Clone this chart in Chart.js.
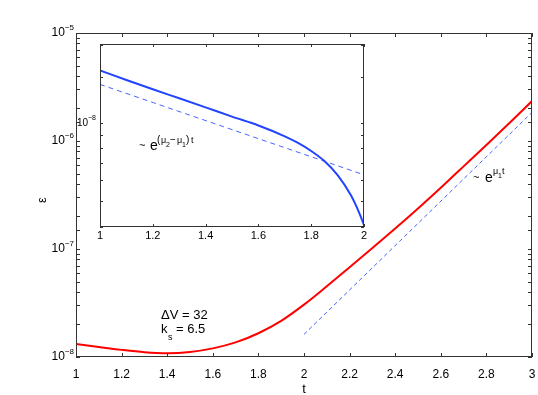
<!DOCTYPE html>
<html>
<head>
<meta charset="utf-8">
<script src="https://cdn.jsdelivr.net/npm/chart.js@4.4.1/dist/chart.umd.min.js"></script>
<style>
  html, body { margin: 0; padding: 0; background: #fff; }
  #wrap { position: relative; width: 538px; height: 395px; }
  #main { position: absolute; left: 0; top: 0; }
  #inset { position: absolute; left: 60px; top: 30px; }
</style>
</head>
<body>
<div id="wrap">
  <canvas id="main" width="538" height="395"></canvas>
  <canvas id="inset" width="320" height="220"></canvas>
</div>
<script>
(function () {
    'use strict';

    // main panel: epsilon(t)
    const mainT = [1.0, 1.1, 1.2, 1.3, 1.4, 1.5, 1.6, 1.7, 1.8, 1.9, 2.0, 2.1, 2.2, 2.3, 2.4, 2.5, 2.6, 2.7, 2.8, 2.9, 3.0];
    const mainEps = [1.318e-8, 1.236e-8, 1.164e-8, 1.109e-8, 1.086e-8, 1.114e-8, 1.202e-8, 1.365e-8, 1.66e-8, 2.163e-8,
                     3.055e-8, 4.519e-8, 6.776e-8, 1.021e-7, 1.549e-7, 2.377e-7, 3.698e-7, 5.821e-7, 9.183e-7, 1.462e-6, 2.344e-6];
    // ~ e^(mu1 t) guide
    const fitT = [2, 3];
    const fitEps = [1.62e-8, 1.84e-6];

    // inset panel
    const insetT = [1.0, 1.1, 1.2, 1.3, 1.4, 1.5, 1.6, 1.7, 1.75, 1.8, 1.85, 1.9, 1.95, 1.975, 2.0];
    const insetVals = [1.596e-8, 1.466e-8, 1.349e-8, 1.245e-8, 1.148e-8, 1.057e-8, 9.77e-9, 8.87e-9, 8.36e-9,
                       7.78e-9, 7.11e-9, 6.27e-9, 5.25e-9, 4.65e-9, 4.03e-9];
    // ~ e^((mu2-mu1) t) guide
    const insetFitT = [1, 2];
    const insetFitVals = [1.409e-8, 6.29e-9];

    // tick labels
    const mainXTicks = [1, 1.2, 1.4, 1.6, 1.8, 2, 2.2, 2.4, 2.6, 2.8, 3];
    const mainYDecades = [-8, -7, -6, -5];
    const insetXTicks = [1, 1.2, 1.4, 1.6, 1.8, 2];
    const insetYDecades = [-8];

    const FONT = '"Liberation Sans", Arial, Helvetica, sans-serif';
    const AXIS = '#333';

    function pts(xs, ys) {
        return xs.map((x, i) => ({ x: x, y: ys[i] }));
    }

    function drawPower(ctx, xRight, yMid, exp, size, supSize) {
        ctx.font = supSize + 'px ' + FONT;
        const sup = '\u2212' + Math.abs(exp);
        const supW = ctx.measureText(sup).width;
        ctx.textAlign = 'left';
        ctx.textBaseline = 'middle';
        ctx.fillText(sup, xRight - supW, yMid - size * 0.45);
        ctx.font = size + 'px ' + FONT;
        ctx.textAlign = 'right';
        ctx.fillText('10', xRight - supW, yMid);
    }

    function axesPlugin(cfg) {
        return {
            id: 'matlabAxes',
            beforeDraw(chart) {
                const { ctx, chartArea: a } = chart;
                ctx.save();
                ctx.fillStyle = '#fff';
                ctx.fillRect(a.left, a.top, a.right - a.left, a.bottom - a.top);
                ctx.restore();
            },
            afterDraw(chart) {
                const { ctx, chartArea: a, scales } = chart;
                const x = scales.x, y = scales.y;
                const L = cfg.tickLen;
                ctx.save();
                ctx.strokeStyle = AXIS;
                ctx.lineWidth = 1;
                ctx.beginPath();
                x.ticks.forEach(t => {
                    const px = Math.round(x.getPixelForValue(t.value)) + 0.5;
                    ctx.moveTo(px, a.bottom); ctx.lineTo(px, a.bottom - L);
                    ctx.moveTo(px, a.top); ctx.lineTo(px, a.top + L);
                });
                y.ticks.forEach(t => {
                    const py = Math.round(y.getPixelForValue(t.value)) + 0.5;
                    ctx.moveTo(a.left, py); ctx.lineTo(a.left + L, py);
                    ctx.moveTo(a.right, py); ctx.lineTo(a.right - L, py);
                });
                ctx.stroke();
                ctx.strokeRect(Math.round(a.left) + 0.5, Math.round(a.top) + 0.5,
                    Math.round(a.right - a.left) - 1, Math.round(a.bottom - a.top) - 1);

                ctx.fillStyle = '#000';
                ctx.font = cfg.xFont + 'px ' + FONT;
                ctx.textAlign = 'center';
                ctx.textBaseline = 'middle';
                cfg.xTicks.forEach(v => {
                    ctx.fillText(String(Number(v.toFixed(1))), x.getPixelForValue(v), a.bottom + cfg.xOff);
                });
                cfg.yDecades.forEach(d => {
                    drawPower(ctx, a.left - cfg.yOff, y.getPixelForValue(Math.pow(10, d)), d, cfg.yFont, cfg.ySup);
                });
                if (cfg.extra) cfg.extra(ctx, a);
                ctx.restore();
            }
        };
    }

    function text(ctx, s, x, y, size, align) {
        ctx.font = size + 'px ' + FONT;
        ctx.textAlign = align || 'left';
        ctx.textBaseline = 'alphabetic';
        ctx.fillText(s, x, y);
    }

    function mainExtras(ctx) {
        ctx.fillStyle = '#000';
        // axis labels
        text(ctx, 't', 304, 393, 13, 'center');
        ctx.save();
        ctx.translate(46, 200);
        ctx.rotate(-Math.PI / 2);
        text(ctx, '\u03b5', 0, 0, 13, 'center');
        ctx.restore();
        // parameters
        text(ctx, '\u0394V = 32', 161, 319, 13);
        text(ctx, 'k', 161, 333, 13);
        text(ctx, 's', 168, 340, 9);
        text(ctx, '= 6.5', 176, 333, 13);
        // ~ e^(mu1 t)
        text(ctx, '~', 473, 181, 11);
        text(ctx, 'e', 485, 182, 14);
        text(ctx, '\u03bc', 493, 174, 9);
        text(ctx, '1', 498, 178, 7);
        text(ctx, 't', 502, 174, 9);
    }

    function insetExtras(ctx) {
        ctx.fillStyle = '#000';
        // ~ e^((mu2-mu1) t), positions in inset canvas pixels
        text(ctx, '~', 79, 119, 11);
        text(ctx, 'e', 90, 120, 14);
        text(ctx, '(', 97, 113, 10);
        text(ctx, '\u03bc', 101, 113, 9);
        text(ctx, '2', 106, 117, 7);
        text(ctx, '\u2212', 110, 113, 10);
        text(ctx, '\u03bc', 117, 113, 9);
        text(ctx, '1', 122, 117, 7);
        text(ctx, ')', 126, 113, 10);
        text(ctx, 't', 131, 113, 9);
    }

    function baseOptions(xmin, xmax, ymin, ymax, yWidth, xHeight, pad) {
        return {
            responsive: false,
            devicePixelRatio: 1,
            animation: false,
            layout: { padding: pad },
            plugins: { legend: { display: false }, tooltip: { enabled: false } },
            elements: { point: { radius: 0 } },
            scales: {
                x: {
                    type: 'linear', min: xmin, max: xmax,
                    ticks: { display: false, stepSize: 0.2 },
                    grid: { display: false }, border: { display: false },
                    afterFit: s => { s.height = xHeight; }
                },
                y: {
                    type: 'logarithmic', min: ymin, max: ymax,
                    ticks: { display: false },
                    grid: { display: false }, border: { display: false },
                    afterFit: s => { s.width = yWidth; }
                }
            }
        };
    }

    new Chart(document.getElementById('main'), {
        type: 'line',
        data: {
            datasets: [
                { data: pts(mainT, mainEps), borderColor: '#ff0000', borderWidth: 2, cubicInterpolationMode: 'monotone' },
                { data: pts(fitT, fitEps), borderColor: '#4a66ff', borderWidth: 1, borderDash: [4, 3] }
            ]
        },
        options: baseOptions(1, 3, 1e-8, 1e-5, 76, 38, { left: 0, top: 33, right: 6, bottom: 0 }),
        plugins: [axesPlugin({
            tickLen: 4, xTicks: mainXTicks, yDecades: mainYDecades,
            xFont: 12, xOff: 18, yFont: 12, ySup: 8, yOff: 2, extra: mainExtras
        })]
    });

    new Chart(document.getElementById('inset'), {
        type: 'line',
        data: {
            datasets: [
                { data: pts(insetT, insetVals), borderColor: '#2244ff', borderWidth: 2, cubicInterpolationMode: 'monotone' },
                { data: pts(insetFitT, insetFitVals), borderColor: '#4a66ff', borderWidth: 1, borderDash: [5, 4] }
            ]
        },
        options: baseOptions(1, 2, 3.95e-9, 2.02e-8, 40, 23, { left: 0, top: 14, right: 16, bottom: 0 }),
        plugins: [axesPlugin({
            tickLen: 3, xTicks: insetXTicks, yDecades: insetYDecades,
            xFont: 11, xOff: 9, yFont: 10, ySup: 7, yOff: 4, extra: insetExtras
        })]
    });
})();
</script>
</body>
</html>
